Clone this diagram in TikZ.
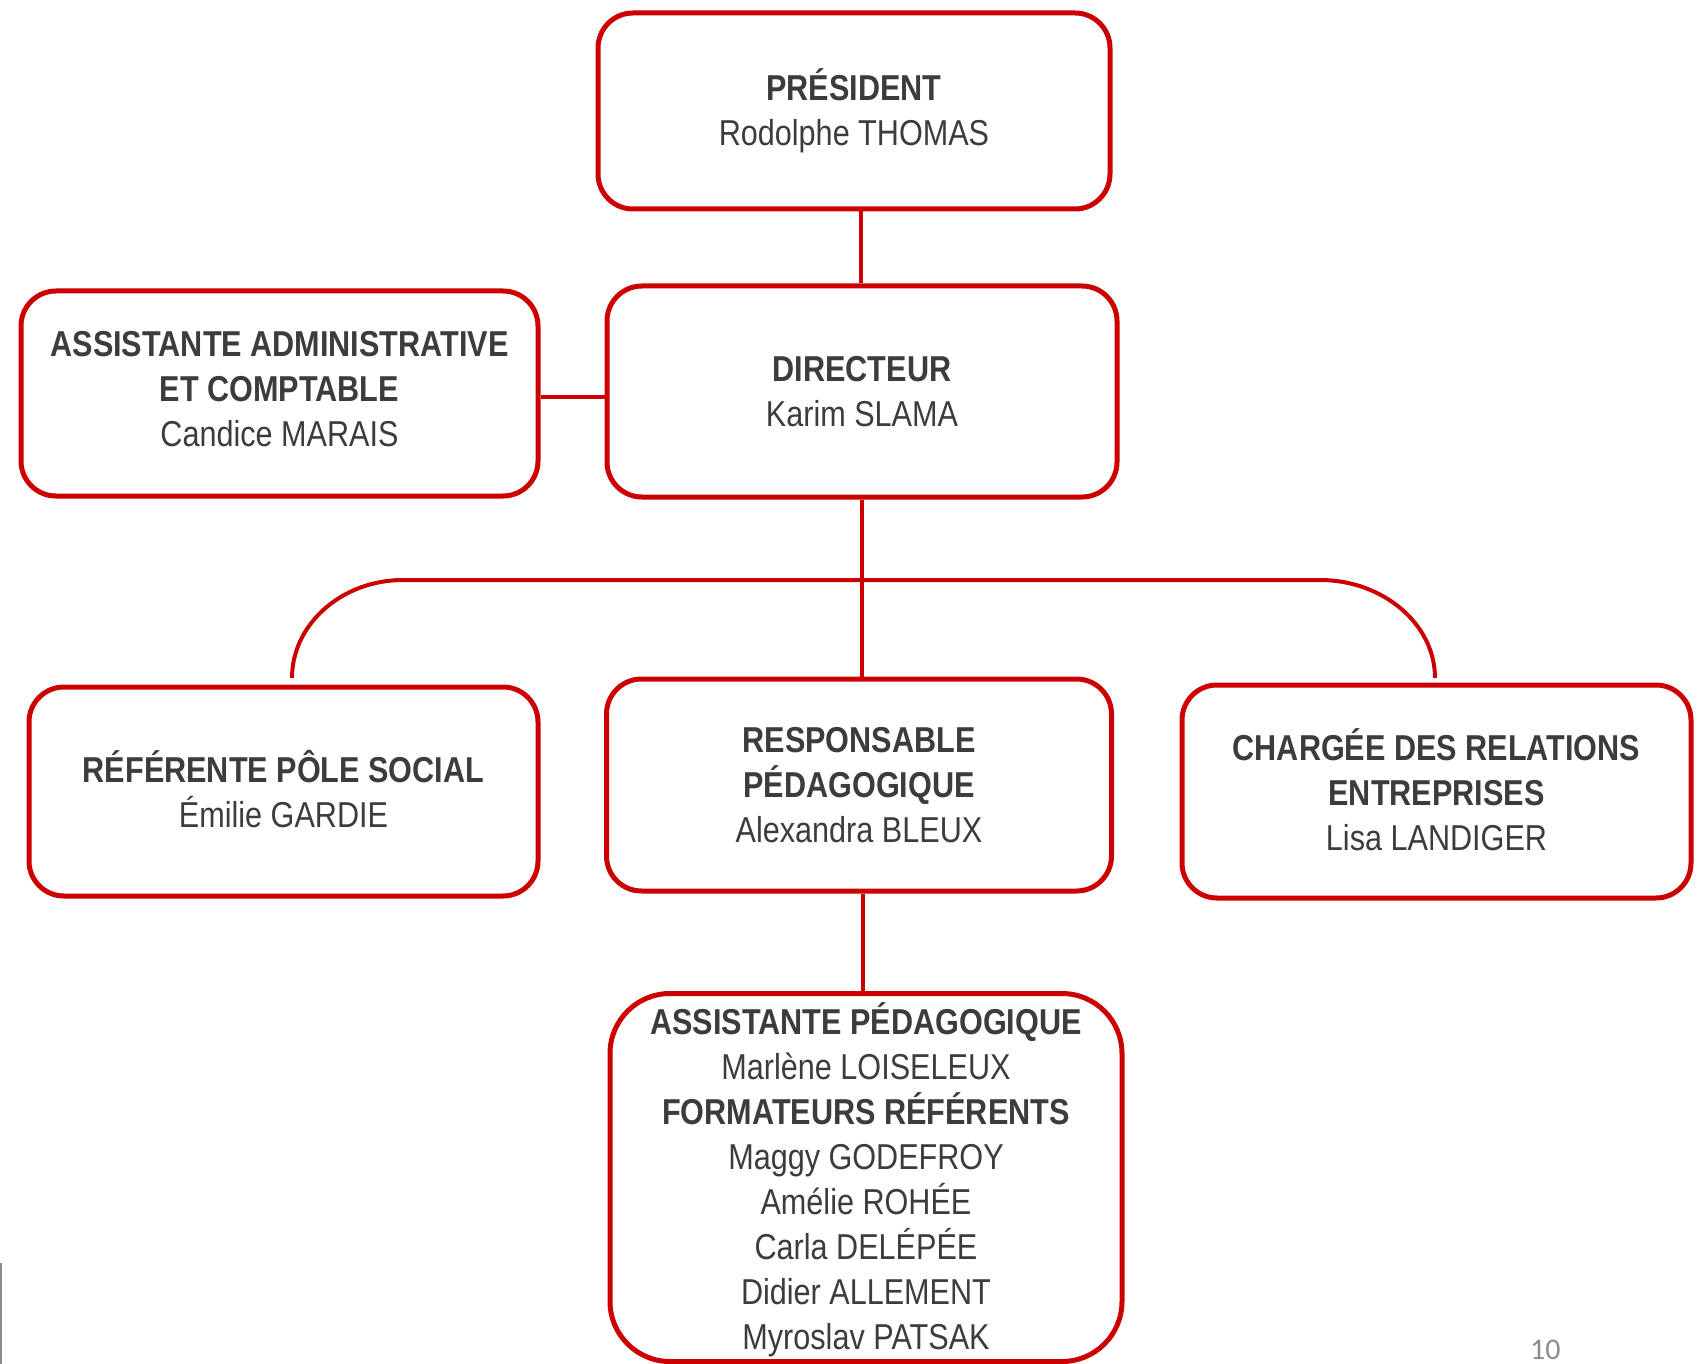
\documentclass[tikz,border=0pt]{standalone}
\usepackage{fontspec}
\setmainfont{Liberation Sans}[FakeStretch=0.85]
\newfontfamily\pagefont{Carlito}
\usetikzlibrary{calc}
\definecolor{boxred}{HTML}{CC0000}
\definecolor{txtgray}{HTML}{3C3C3C}
\definecolor{numgray}{HTML}{8C8C8C}
\tikzset{
  orgbox/.style={draw=boxred, line width=5pt, rounded corners=35pt, rectangle,
    inner sep=0pt, align=center, text=txtgray,
    font=\fontsize{36}{45}\selectfont},
  orgtext/.style={inner sep=0pt, align=center, text=txtgray,
    font=\fontsize{36}{45}\selectfont},
  link/.style={draw=boxred, line width=4pt},
}
\begin{document}
\begin{tikzpicture}[x=1pt,y=-1pt]
\useasboundingbox (0,0) rectangle (1700,1364);
\node[orgbox, minimum width=512pt, minimum height=196pt] (pres) at (854,111)
  {\textbf{PRÉSIDENT}\\Rodolphe THOMAS};
\node[orgbox, minimum width=510pt, minimum height=211pt] (dir) at (862,391.5)
  {\textbf{DIRECTEUR}\\Karim SLAMA};
\node[orgbox, minimum width=517pt, minimum height=205pt] (admin) at (279.5,393.5) {};
\node[orgtext] (admintxt) at (279.5,389)
  {\textbf{ASSISTANTE ADMINISTRATIVE}\\\textbf{ET COMPTABLE}\\Candice MARAIS};
\node[orgbox, minimum width=509pt, minimum height=209pt] (ref) at (283.5,791.5) {};
\node[orgtext] (reftxt) at (283.5,789.5)
  {\textbf{RÉFÉRENTE PÔLE SOCIAL}\\Émilie GARDIE};
\node[orgbox, minimum width=505pt, minimum height=212pt] (resp) at (859,785)
  {\textbf{RESPONSABLE}\\\textbf{PÉDAGOGIQUE}\\Alexandra BLEUX};
\node[orgbox, minimum width=509pt, minimum height=213pt] (charg) at (1436.5,791.5) {};
\node[orgtext] (chargtxt) at (1436.5,789.5)
  {\textbf{CHARGÉE DES RELATIONS}\\\textbf{ENTREPRISES}\\Lisa LANDIGER};
\node[orgbox, rounded corners=60pt, minimum width=512pt, minimum height=368pt] (assped) at (866,1177.5) {};
\node[orgtext] (asspedtxt) at (866,1180)
  {\textbf{ASSISTANTE PÉDAGOGIQUE}\\Marlène LOISELEUX\\\textbf{FORMATEURS RÉFÉRENTS}\\Maggy GODEFROY\\Amélie ROHÉE\\Carla DELÉPÉE\\Didier ALLEMENT\\Myroslav PATSAK};
% connectors
\coordinate (pdx) at ($(dir.north)+(-1.5,0)$);
\coordinate (rax) at ($(assped.north)+(-3,0)$);
\draw[link] (pdx |- pres.south) -- (pdx);
\draw[link] (admin.east |- 0,397) -- (dir.west |- 0,397);
\draw[link] (dir.south) -- (dir.south |- resp.north);
\draw[link] (rax |- resp.south) -- (rax);
\coordinate (busL) at (292,678);
\coordinate (busR) at (1435,678);
\draw[link] (busL) .. controls (292,624) and (342,580) .. (403,580)
  -- (1320,580) .. controls (1383,580) and (1435,624) .. (busR);
% page number and margin mark
\node[anchor=base west, inner sep=0pt, text=numgray, font=\pagefont\fontsize{30}{36}\selectfont] (pnum) at (1530,1359) {10};
\coordinate (mkT) at (1,1263);
\coordinate (mkB) at (1,1364);
\draw[draw=numgray, line width=2pt] (mkT) -- (mkB);
\end{tikzpicture}
\end{document}
